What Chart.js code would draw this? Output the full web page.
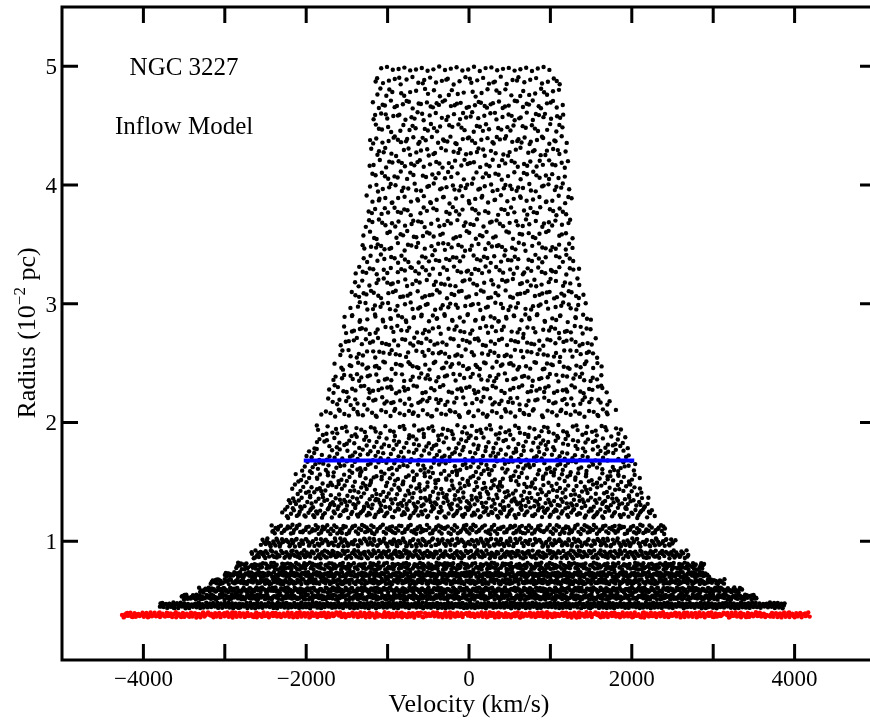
<!DOCTYPE html>
<html>
<head>
<meta charset="utf-8">
<script src="https://cdn.jsdelivr.net/npm/chart.js@4.4.1/dist/chart.umd.min.js"></script>
<style>
html, body { margin: 0; padding: 0; overflow: hidden; background: #fff; }
#wrap { width: 880px; height: 721px; }
</style>
</head>
<body>
<div id="wrap"><canvas id="chart" width="880" height="721"></canvas></div>
<script>
//axis ticks
const xTicks = [-4000, -3000, -2000, -1000, 0, 1000, 2000, 3000, 4000];
const xTickLabels = ["\u22124000", "", "\u22122000", "", "0", "", "2000", "", "4000"];
const yTicks = [1, 2, 3, 4, 5];
const yTickLabels = ["1", "2", "3", "4", "5"];

//model cloud, band by band (radius in 10^-2 pc, velocity in km/s)
const bandRadius = [4.98, 4.88, 4.78, 4.68, 4.58, 4.48, 4.38, 4.28, 4.18, 4.08, 3.98, 3.88, 3.78, 3.68, 3.58, 3.48, 3.38, 3.28, 3.18, 3.08, 2.98, 2.88, 2.78, 2.68, 2.58, 2.48, 2.38, 2.28, 2.18, 2.08,
  1.93, 1.83, 1.73, 1.63, 1.53, 1.43, 1.33, 1.24, 1.10, 0.99, 0.89, 0.79, 0.72, 0.66, 0.59, 0.53, 0.46];
const bandSpread = [0.02, 0.035, 0.035, 0.035, 0.035, 0.035, 0.035, 0.035, 0.035, 0.035, 0.035, 0.035, 0.035, 0.035, 0.035, 0.035, 0.035, 0.035, 0.035, 0.035, 0.035, 0.035, 0.035, 0.035, 0.035, 0.035, 0.035, 0.035, 0.035, 0.035,
  0.05, 0.05, 0.05, 0.05, 0.05, 0.05, 0.045, 0.045, 0.04, 0.035, 0.035, 0.03, 0.022, 0.022, 0.022, 0.022, 0.025];
const bandVelMin = [-1150, -1165, -1180, -1190, -1200, -1210, -1220, -1225, -1235, -1240, -1250, -1260, -1275, -1290, -1310, -1340, -1370, -1400, -1430, -1460, -1500, -1530, -1560, -1590, -1620, -1660, -1700, -1740, -1780, -1820,
  -1890, -1950, -2010, -2080, -2130, -2190, -2240, -2300, -2440, -2560, -2680, -2880, -3000, -3180, -3320, -3540, -3800];
const bandVelMax = [1130, 1150, 1160, 1170, 1185, 1195, 1210, 1220, 1230, 1240, 1255, 1265, 1270, 1280, 1290, 1300, 1330, 1360, 1390, 1420, 1460, 1500, 1540, 1580, 1610, 1640, 1670, 1710, 1760, 1810,
  1890, 1960, 2010, 2060, 2100, 2150, 2220, 2290, 2420, 2540, 2700, 2900, 2950, 3150, 3360, 3540, 3880];
const bandCount = [30, 40, 34, 50, 46, 42, 52, 44, 48, 42, 50, 44, 46, 48, 44, 52, 50, 56, 52, 58, 56, 62, 58, 66, 62, 70, 68, 74, 72, 80,
  95, 100, 110, 120, 130, 140, 180, 200, 280, 330, 380, 400, 420, 460, 520, 560, 650];

//inner boundary clouds (red)
const innerRadius = [0.38];
const innerSpread = [0.022];
const innerVelMin = [-4270];
const innerVelMax = [4190];
const innerCount = [650];

//marked radius (blue)
const markerVel = [-2030, 2030];
const markerRadius = [1.68, 1.68];

//spread each band's clouds evenly over its range (Halton sequence, no randomness)
function halton(i, b) {
  let f = 1, r = 0;
  while (i > 0) { f /= b; r += f * (i % b); i = Math.floor(i / b); }
  return r;
}
let seq = 1;
function fillBands(rad, spread, vmin, vmax, count) {
  const pts = [];
  for (let k = 0; k < rad.length; k++) {
    for (let j = 0; j < count[k]; j++) {
      const u = halton(seq, 2), w = halton(seq, 3);
      seq++;
      pts.push({ x: vmin[k] + u * (vmax[k] - vmin[k]), y: rad[k] + (2 * w - 1) * spread[k] });
    }
  }
  return pts;
}
const cloudPts = fillBands(bandRadius, bandSpread, bandVelMin, bandVelMax, bandCount);
const innerPts = fillBands(innerRadius, innerSpread, innerVelMin, innerVelMax, innerCount);

const serif = '"Liberation Serif", "Times New Roman", serif';

//frame with inward ticks, labels and titles
const framePlugin = {
  id: "frame",
  afterDraw(chart) {
    const ctx = chart.ctx;
    const a = chart.chartArea;
    const xs = chart.scales.x, ys = chart.scales.y;
    ctx.save();
    ctx.strokeStyle = "#000";
    ctx.lineWidth = 3;
    ctx.lineCap = "butt";
    ctx.strokeRect(a.left, a.top, a.right - a.left, a.bottom - a.top);
    ctx.beginPath();
    xTicks.forEach(v => {
      const px = xs.getPixelForValue(v);
      ctx.moveTo(px, a.bottom); ctx.lineTo(px, a.bottom - 16);
      ctx.moveTo(px, a.top); ctx.lineTo(px, a.top + 16);
    });
    yTicks.forEach(v => {
      const py = ys.getPixelForValue(v);
      ctx.moveTo(a.left, py); ctx.lineTo(a.left + 16, py);
      ctx.moveTo(a.right, py); ctx.lineTo(a.right - 16, py);
    });
    ctx.stroke();

    ctx.fillStyle = "#000";
    ctx.font = "23px " + serif;
    ctx.textBaseline = "alphabetic";
    ctx.textAlign = "center";
    xTicks.forEach((v, i) => {
      ctx.fillText(xTickLabels[i], xs.getPixelForValue(v), a.bottom + 25.5);
    });
    ctx.textAlign = "right";
    yTicks.forEach((v, i) => {
      ctx.fillText(yTickLabels[i], a.left - 5, ys.getPixelForValue(v) + 7.8);
    });

    //axis titles
    ctx.font = "26px " + serif;
    ctx.textAlign = "center";
    ctx.fillText("Velocity (km/s)", xs.getPixelForValue(0), 712);

    ctx.translate(35, 333);
    ctx.rotate(-Math.PI / 2);
    ctx.textAlign = "left";
    const big = "26px " + serif, small = "17px " + serif;
    ctx.font = big;
    const w1 = ctx.measureText("Radius (10").width;
    const w3 = ctx.measureText(" pc)").width;
    ctx.font = small;
    const w2 = ctx.measureText("\u22122").width;
    let x0 = -(w1 + w2 + w3) / 2;
    ctx.font = big;
    ctx.fillText("Radius (10", x0, 0);
    ctx.font = small;
    ctx.fillText("\u22122", x0 + w1, -10);
    ctx.font = big;
    ctx.fillText(" pc)", x0 + w1 + w2, 0);
    ctx.restore();

    //labels inside the plot
    ctx.save();
    ctx.fillStyle = "#000";
    ctx.font = "25px " + serif;
    ctx.textAlign = "center";
    ctx.textBaseline = "alphabetic";
    ctx.fillText("NGC 3227", xs.getPixelForValue(-3500), ys.getPixelForValue(5.0) + 8.3);
    ctx.fillText("Inflow Model", xs.getPixelForValue(-3500), ys.getPixelForValue(4.5) + 8.3);
    ctx.restore();
  }
};

new Chart(document.getElementById("chart"), {
  type: "scatter",
  plugins: [framePlugin],
  data: {
    datasets: [
      {
        type: "line",
        data: markerVel.map((v, i) => ({ x: v, y: markerRadius[i] })),
        borderColor: "#0000ff",
        borderWidth: 4,
        pointRadius: 0,
        fill: false,
      },
      {
        data: innerPts,
        backgroundColor: "#ff0000",
        borderWidth: 0,
        pointRadius: 2.2,
      },
      {
        data: cloudPts,
        backgroundColor: "#000000",
        borderWidth: 0,
        pointRadius: 2.2,
      },
    ],
  },
  options: {
    responsive: false,
    animation: false,
    events: [],
    layout: { padding: { left: 62, right: 3, top: 7, bottom: 61 } },
    scales: {
      x: { type: "linear", min: -5000, max: 5000, display: false },
      y: { type: "linear", min: 0, max: 5.5, display: false },
    },
    plugins: {
      legend: { display: false },
      tooltip: { enabled: false },
    },
  },
});
</script>
</body>
</html>
